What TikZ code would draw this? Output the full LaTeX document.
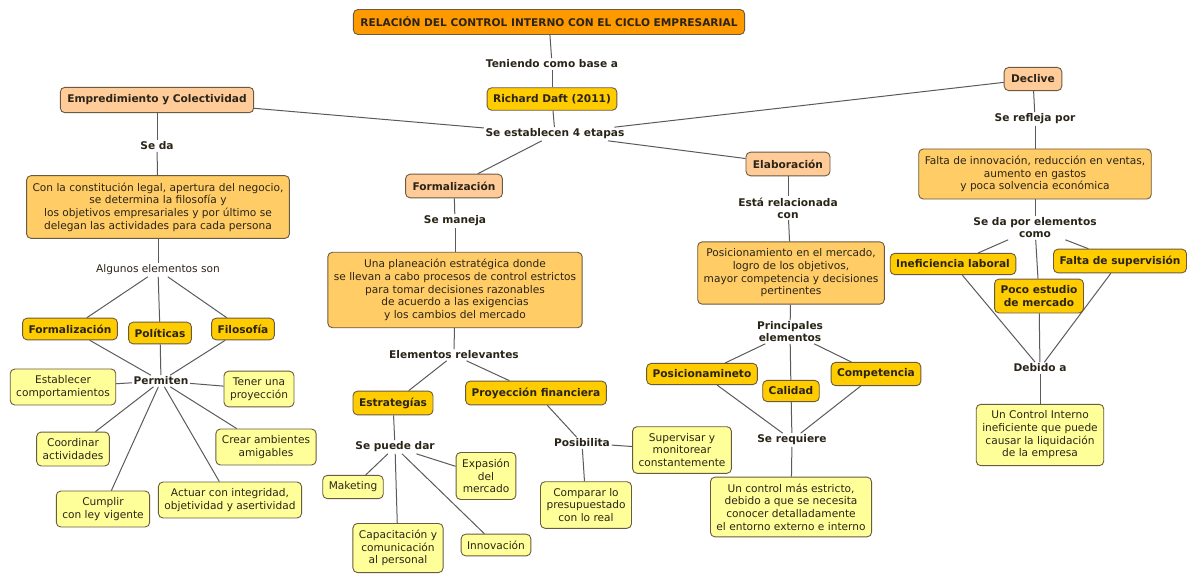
\documentclass[tikz,border=0pt]{standalone}
\usepackage{fontspec}
\setmainfont{DejaVu Sans}
\definecolor{titlefill}{HTML}{FF9900}
\definecolor{stagefill}{HTML}{FFCC99}
\definecolor{goldfill}{HTML}{FFCC00}
\definecolor{detailfill}{HTML}{FFCC66}
\definecolor{itemfill}{HTML}{FFFF99}
\definecolor{boxline}{HTML}{6A5A40}
\definecolor{linegray}{HTML}{5A5A5A}
\definecolor{textdark}{HTML}{2A2418}

\begin{document}
\begin{tikzpicture}[x=1pt, y=-1pt,
    base/.style ={draw=boxline, line width=0.9pt, rounded corners=4.5pt, align=center, text=textdark},
    heading/.style ={base, fill=titlefill, font=\fontsize{10.6}{12.7}\bfseries\selectfont, inner xsep=7pt, inner ysep=7.5pt},
    stage/.style ={base, fill=stagefill, font=\fontsize{10.6}{12.7}\bfseries\selectfont, inner xsep=7pt, inner ysep=7.5pt},
    element/.style ={base, fill=goldfill, font=\fontsize{10.6}{12.7}\bfseries\selectfont, inner xsep=6pt, inner ysep=6.5pt},
    detail/.style ={base, fill=detailfill, font=\fontsize{10.6}{12.7}\selectfont, inner xsep=6pt, inner ysep=7pt},
    item/.style ={base, fill=itemfill, font=\fontsize{10.6}{12.7}\selectfont, inner xsep=6pt, inner ysep=6.5pt},
    phrase/.style ={align=center, text=textdark, font=\fontsize{10.6}{12}\bfseries\selectfont, inner sep=1.5pt},
    plainphrase/.style ={align=center, text=textdark, font=\fontsize{10.6}{12}\selectfont, inner sep=1.5pt},
    joint/.style ={draw=linegray, line width=1pt}]
   \useasboundingbox (0,0) rectangle (1188,574);

   \node[heading] (title) at (549,22) {RELACIÓN DEL CONTROL INTERNO CON EL CICLO EMPRESARIAL};
   \node[phrase] (base) at (552,64) {Teniendo como base a};
   \node[element] (daft) at (552,99) {Richard Daft (2011)};
   \node[phrase] (etapas) at (555,134) {Se establecen 4 etapas};

   \node[stage] (empre) at (157,100) {Empredimiento y Colectividad};
   \node[stage] (formal) at (454,186) {Formalización};
   \node[stage] (elab) at (788,164) {Elaboración};
   \node[stage] (declive) at (1033,79) {Declive};

   \node[phrase] (seda) at (157,146) {Se da};
   \node[detail] (constit) at (158,207) {Con la constitución legal, apertura del negocio,\\ se determina la filosofía y\\ los objetivos empresariales y por último se\\ delegan las actividades para cada persona};
   \node[plainphrase] (algunos) at (158,270) {Algunos elementos son};
   \node[element] (formA) at (70,329) {Formalización};
   \node[element] (politicas) at (160,333) {Políticas};
   \node[element] (filosofia) at (243,329) {Filosofía};
   \node[phrase] (permiten) at (161,381) {Permiten};
   \node[item] (establecer) at (63,387) {Establecer\\ comportamientos};
   \node[item] (tener) at (259,389) {Tener una\\ proyección};
   \node[item] (coordinar) at (73,449) {Coordinar\\ actividades};
   \node[item] (crear) at (266,447) {Crear ambientes\\ amigables};
   \node[item] (cumplir) at (103,509) {Cumplir\\ con ley vigente};
   \node[item] (actuar) at (230,500) {Actuar con integridad,\\ objetividad y asertividad};

   \node[phrase] (semaneja) at (455,221) {Se maneja};
   \node[detail] (planeacion) at (455,290) {Una planeación estratégica donde\\ se llevan a cabo procesos de control estrictos\\ para tomar decisiones razonables\\ de acuerdo a las exigencias\\ y los cambios del mercado};
   \node[phrase] (relevantes) at (454,355) {Elementos relevantes};
   \node[element] (estrategias) at (393,403) {Estrategías};
   \node[element] (proyeccion) at (536,393) {Proyección financiera};
   \node[phrase] (sepuede) at (395,447) {Se puede dar};
   \node[item] (maketing) at (353,487) {Maketing};
   \node[item] (expasion) at (486,476) {Expasión\\ del\\ mercado};
   \node[item] (capacitacion) at (398,548) {Capacitación y\\ comunicación\\ al personal};
   \node[item] (innovacion) at (496,545) {Innovación};
   \node[phrase] (posibilita) at (582,443) {Posibilita};
   \node[item] (supervisar) at (682,450) {Supervisar y\\ monitorear\\ constantemente};
   \node[item] (comparar) at (586,505) {Comparar lo\\ presupuestado\\ con lo real};

   \node[phrase] (relacionada) at (788,208) {Está relacionada\\ con};
   \node[detail] (posicion) at (791,273) {Posicionamiento en el mercado,\\ logro de los objetivos,\\ mayor competencia y decisiones\\ pertinentes};
   \node[phrase] (principales) at (790,332) {Principales\\ elementos};
   \node[element] (posicionam) at (702,374) {Posicionamineto};
   \node[element] (calidad) at (791,391) {Calidad};
   \node[element] (competencia) at (876,374) {Competencia};
   \node[phrase] (serequiere) at (792,440) {Se requiere};
   \node[item] (estricto) at (791,507) {Un control más estricto,\\ debido a que se necesita\\ conocer detalladamente\\ el entorno externo e interno};

   \node[phrase] (serefleja) at (1035,119) {Se refleja por};
   \node[detail] (falta) at (1035,174) {Falta de innovación, reducción en ventas,\\ aumento en gastos\\ y poca solvencia económica};
   \node[phrase] (sedapor) at (1035,228) {Se da por elementos\\ como};
   \node[element] (ineficiencia) at (953,264) {Ineficiencia laboral};
   \node[element] (faltasup) at (1120,261) {Falta de supervisión};
   \node[element] (poco) at (1039,296) {Poco estudio\\ de mercado};
   \node[phrase] (debido) at (1040,368) {Debido a};
   \node[item] (ineficiente) at (1040,435) {Un Control Interno\\ ineficiente que puede\\ causar la liquidación\\ de la empresa};

   \draw[joint] (title) to (base);
   \draw[joint] (base) to (daft);
   \draw[joint] (daft) to (etapas);
   \draw[joint] (empre) to (etapas);
   \draw[joint] (etapas) to (formal);
   \draw[joint] (etapas) to (elab);
   \draw[joint] (etapas) to (declive);

   \draw[joint] (empre) to (seda);
   \draw[joint] (seda) to (constit);
   \draw[joint] (constit) to (algunos);
   \draw[joint] (algunos) to (formA);
   \draw[joint] (algunos) to (politicas);
   \draw[joint] (algunos) to (filosofia);
   \draw[joint] (formA) to (permiten);
   \draw[joint] (politicas) to (permiten);
   \draw[joint] (filosofia) to (permiten);
   \draw[joint] (permiten) to (establecer);
   \draw[joint] (permiten) to (tener);
   \draw[joint] (permiten) to (coordinar);
   \draw[joint] (permiten) to (crear);
   \draw[joint] (permiten) to (cumplir);
   \draw[joint] (permiten) to (actuar);

   \draw[joint] (formal) to (semaneja);
   \draw[joint] (semaneja) to (planeacion);
   \draw[joint] (planeacion) to (relevantes);
   \draw[joint] (relevantes) to (estrategias);
   \draw[joint] (relevantes) to (proyeccion);
   \draw[joint] (estrategias) to (sepuede);
   \draw[joint] (sepuede) to (maketing);
   \draw[joint] (sepuede) to (expasion);
   \draw[joint] (sepuede) to (capacitacion);
   \draw[joint] (sepuede) to (innovacion);
   \draw[joint] (proyeccion) to (posibilita);
   \draw[joint] (posibilita) to (supervisar);
   \draw[joint] (posibilita) to (comparar);

   \draw[joint] (elab) to (relacionada);
   \draw[joint] (relacionada) to (posicion);
   \draw[joint] (posicion) to (principales);
   \draw[joint] (principales) to (posicionam);
   \draw[joint] (principales) to (calidad);
   \draw[joint] (principales) to (competencia);
   \draw[joint] (posicionam) to (serequiere);
   \draw[joint] (calidad) to (serequiere);
   \draw[joint] (competencia) to (serequiere);
   \draw[joint] (serequiere) to (estricto);

   \draw[joint] (declive) to (serefleja);
   \draw[joint] (serefleja) to (falta);
   \draw[joint] (falta) to (sedapor);
   \draw[joint] (sedapor) to (ineficiencia);
   \draw[joint] (sedapor) to (faltasup);
   \draw[joint] (sedapor) to (poco);
   \draw[joint] (ineficiencia) to (debido);
   \draw[joint] (faltasup) to (debido);
   \draw[joint] (poco) to (debido);
   \draw[joint] (debido) to (ineficiente);
 \end{tikzpicture}
\end{document}
